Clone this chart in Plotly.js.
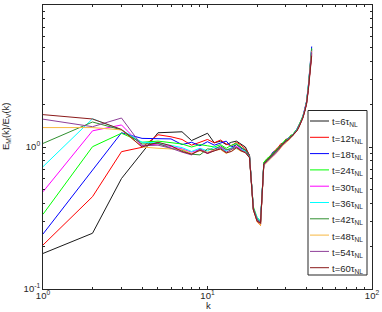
<!DOCTYPE html>
<html>
<head>
<meta charset="utf-8">
<script src="https://cdn.plot.ly/plotly-3.0.1.min.js"></script>
<style>html,body{margin:0;padding:0;background:#fff;}#chart{width:382px;height:312px;}</style>
</head>
<body>
<div id="chart"></div>
<script>
// wavenumbers k = 1..43
const k = [1,2,3,4,5,6,7,8,9,10,11,12,13,14,15,16,17,18,19,20,21,22,23,24,25,26,27,28,29,30,31,32,33,34,35,36,37,38,39,40,41,42,43];

const t6  = [0.178,0.247,0.60,0.92,1.26,1.27,1.28,1.11,1.18,1.25,1.07,1.10,1.04,1.08,1.10,1.05,1.00,0.87,
             0.36,0.31,0.29,0.76,0.80,0.86,0.88,0.95,0.97,1.03,1.05,1.12,1.13,1.18,1.20,1.27,1.31,1.40,1.49,1.62,1.80,2.05,2.60,3.45,4.60];
const t12 = [0.204,0.447,0.927,0.995,1.22,1.18,1.13,1.03,1.08,1.13,1.07,1.12,1.05,1.02,1.08,1.03,0.97,0.88,
             0.37,0.30,0.28,0.78,0.82,0.87,0.91,0.96,1.00,1.06,1.05,1.14,1.12,1.20,1.22,1.27,1.31,1.40,1.50,1.63,1.79,2.02,2.55,3.40,4.50];
const t18 = [0.244,0.68,1.26,1.15,1.15,1.14,1.04,1.08,1.02,1.09,1.03,1.06,1.10,1.00,1.04,0.98,0.95,0.87,
             0.37,0.31,0.30,0.77,0.81,0.85,0.92,0.93,0.99,1.04,1.08,1.10,1.16,1.17,1.23,1.26,1.34,1.41,1.52,1.64,1.83,2.10,2.68,3.65,5.10];
const t24 = [0.336,1.005,1.25,1.08,1.10,1.07,1.05,1.00,1.04,1.02,1.00,1.04,0.98,1.03,1.06,1.00,0.94,0.86,
             0.38,0.32,0.30,0.78,0.83,0.86,0.90,0.95,0.98,1.03,1.09,1.13,1.13,1.21,1.22,1.29,1.33,1.42,1.52,1.65,1.82,2.08,2.65,3.60,4.95];
const t30 = [0.484,1.30,1.43,1.02,1.05,1.00,0.97,0.92,0.96,0.90,0.97,1.00,0.95,0.98,1.01,0.96,0.93,0.85,
             0.37,0.31,0.29,0.76,0.79,0.84,0.86,0.90,0.95,1.00,1.05,1.08,1.12,1.17,1.20,1.25,1.31,1.39,1.50,1.61,1.79,2.04,2.58,3.50,4.80];
const t36 = [0.727,1.58,1.32,1.08,1.07,1.02,0.99,0.93,0.98,0.94,1.00,0.98,0.94,0.99,0.97,0.96,0.94,0.86,
             0.37,0.32,0.30,0.77,0.80,0.83,0.89,0.91,0.97,1.02,1.06,1.09,1.15,1.16,1.22,1.26,1.32,1.40,1.51,1.63,1.81,2.06,2.62,3.55,4.85];
const t42 = [1.06,1.50,1.32,1.05,1.06,0.98,0.95,0.89,0.88,0.97,0.96,1.02,0.96,0.97,1.04,0.99,0.95,0.86,
             0.37,0.31,0.29,0.77,0.81,0.85,0.90,0.94,0.98,1.02,1.08,1.11,1.15,1.19,1.21,1.28,1.33,1.41,1.51,1.63,1.81,2.07,2.63,3.55,4.90];
const t48 = [1.37,1.37,1.32,1.00,0.98,0.97,0.96,0.90,0.94,0.92,0.95,0.96,0.90,0.94,0.98,0.93,0.92,0.84,
             0.36,0.30,0.28,0.74,0.78,0.82,0.85,0.89,0.94,0.99,1.04,1.07,1.11,1.16,1.19,1.25,1.30,1.38,1.49,1.61,1.78,2.03,2.58,3.48,4.75];
const t54 = [1.57,1.39,1.60,1.02,1.03,0.98,0.92,0.88,0.97,0.91,0.94,0.99,0.92,0.96,1.00,0.95,0.92,0.85,
             0.37,0.31,0.29,0.75,0.79,0.83,0.87,0.91,0.95,1.01,1.05,1.09,1.13,1.17,1.20,1.26,1.31,1.39,1.50,1.62,1.79,2.04,2.58,3.50,4.70];
const t60 = [1.69,1.575,1.33,1.00,1.08,1.02,0.93,0.89,0.95,0.90,0.94,0.97,0.91,0.93,0.99,0.94,0.91,0.84,
             0.36,0.30,0.29,0.76,0.80,0.84,0.88,0.93,0.96,1.01,1.04,1.10,1.12,1.16,1.20,1.25,1.30,1.38,1.48,1.60,1.77,2.00,2.50,3.35,4.40];

const seriesNames = ['t=6τ<sub>NL</sub>','t=12τ<sub>NL</sub>','t=18τ<sub>NL</sub>','t=24τ<sub>NL</sub>','t=30τ<sub>NL</sub>',
                     't=36τ<sub>NL</sub>','t=42τ<sub>NL</sub>','t=48τ<sub>NL</sub>','t=54τ<sub>NL</sub>','t=60τ<sub>NL</sub>'];
const seriesValues = [t6,t12,t18,t24,t30,t36,t42,t48,t54,t60];
const colors = ['#1a1a1a','#ff0000','#0000ff','#00ff00','#ff00ff','#00ffff','#2f8f2f','#f7b840','#8e3f99','#8b1a1a'];

const xTickVals = [1,10,100];
const xTickText = ['10<sup>0</sup>','10<sup>1</sup>','10<sup>2</sup>'];
const yTickVals = [0.1,1,10];
const yTickText = ['10<sup>-1</sup>','10<sup>0</sup>','10<sup>1</sup>'];
const xMinor = [2,3,4,5,6,7,8,9,20,30,40,50,60,70,80,90];
const yMinor = [0.2,0.3,0.4,0.5,0.6,0.7,0.8,0.9,2,3,4,5,6,7,8,9];
const xTitle = 'k';
const yTitle = 'E<sub>M</sub>(k)/E<sub>V</sub>(k)';

const traces = seriesValues.map((v,i)=>({
  x: k, y: v, type:'scatter', mode:'lines', name: seriesNames[i],
  line:{color:colors[i], width:1}, showlegend:false
}));

const axisColor = '#262626';
const fontFam = 'Liberation Sans, Arial, sans-serif';
const tickFont = {family:fontFam, size:9.5, color:axisColor};

// Legend box drawn in paper coordinates (plot area: 329 x 284 px)
const W = 329, H = 284;
const px = x => (x - 43) / W;
const py = y => (289 - y) / H;
const shapes = [{
  type:'rect', xref:'paper', yref:'paper', x0:px(308), x1:px(367), y0:py(275), y1:py(110.5),
  fillcolor:'#fff', line:{color:axisColor, width:1}, layer:'above'
}];
const annotations = [];
seriesNames.forEach((nm,i)=>{
  const yy = 121 + 16.3*i;
  shapes.push({type:'line', xref:'paper', yref:'paper', x0:px(310), x1:px(329), y0:py(yy), y1:py(yy),
               line:{color:colors[i], width:1}, layer:'above'});
  annotations.push({xref:'paper', yref:'paper', x:px(329.5), y:py(yy+1.5), xanchor:'left', yanchor:'middle',
                    text:nm, showarrow:false, font:{family:fontFam, size:9.5, color:axisColor}});
});
// axis titles
annotations.push({xref:'paper', yref:'paper', x:px(6), y:py(127), xanchor:'center', yanchor:'middle',
                  textangle:-90, text:yTitle, showarrow:false, font:tickFont});
annotations.push({xref:'paper', yref:'paper', x:px(208), y:py(305), xanchor:'center', yanchor:'middle',
                  text:xTitle, showarrow:false, font:tickFont});

const layout = {
  width:382, height:312,
  margin:{l:43, r:10, t:5, b:23, pad:0},
  paper_bgcolor:'#fff', plot_bgcolor:'#fff',
  showlegend:false,
  xaxis:{
    type:'log', range:[0,2], tickmode:'array', tickvals:xTickVals, ticktext:xTickText,
    ticks:'inside', ticklen:3, tickwidth:1, tickcolor:axisColor, ticklabelstandoff:-2,
    minor:{tickmode:'array', tickvals:xMinor, ticks:'inside', ticklen:2, tickcolor:axisColor, showgrid:false},
    showline:true, linecolor:axisColor, linewidth:1, mirror:'ticks',
    showgrid:false, zeroline:false, tickfont:tickFont, automargin:false
  },
  yaxis:{
    type:'log', range:[-1,1], tickmode:'array', tickvals:yTickVals, ticktext:yTickText,
    ticks:'inside', ticklen:3, tickwidth:1, tickcolor:axisColor,
    minor:{tickmode:'array', tickvals:yMinor, ticks:'inside', ticklen:2, tickcolor:axisColor, showgrid:false},
    showline:true, linecolor:axisColor, linewidth:1, mirror:'ticks',
    showgrid:false, zeroline:false, tickfont:tickFont, automargin:false
  },
  shapes: shapes,
  annotations: annotations
};

Plotly.newPlot('chart', traces, layout, {staticPlot:true, displayModeBar:false});
</script>
</body>
</html>
